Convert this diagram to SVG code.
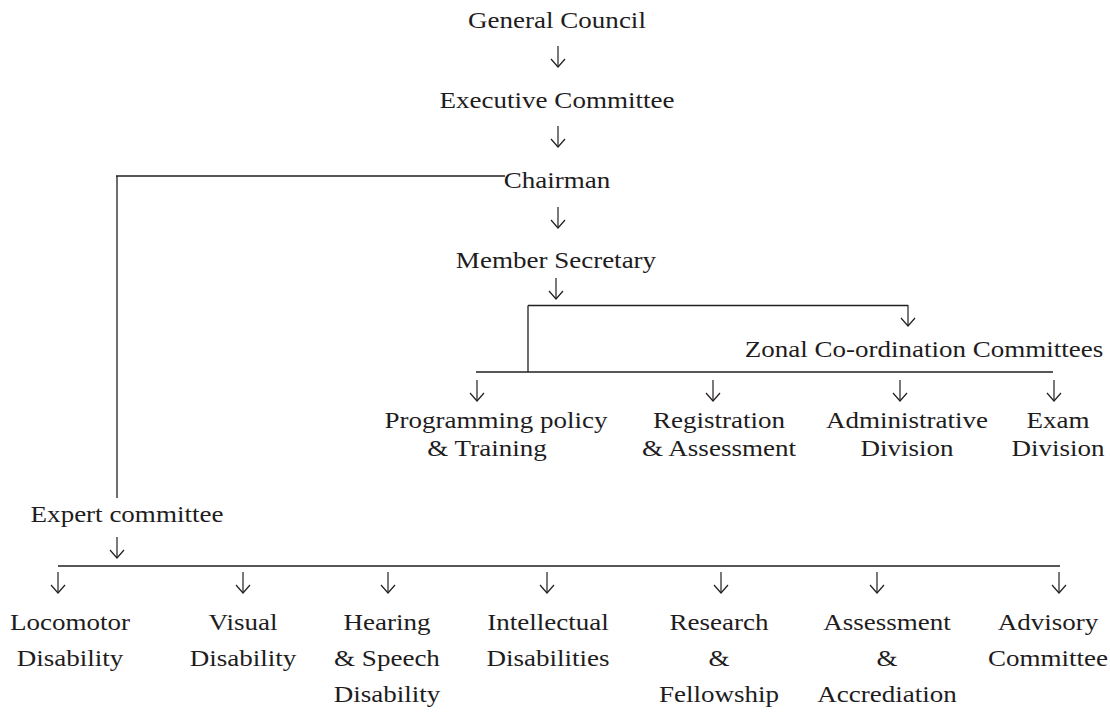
<svg xmlns="http://www.w3.org/2000/svg" width="1110" height="713" viewBox="0 0 1110 713">
  <style>
    text { font-family: "Liberation Serif", "Times New Roman", serif; font-size: 23.5px; fill: #1e1c1d; text-anchor: middle; }
    .ln { fill: none; stroke: #231f20; stroke-width: 1.3; }
    .arr { fill: none; stroke: #231f20; stroke-width: 1.2; marker-end: url(#ah); }
  </style>
  <defs>
    <marker id="ah" markerUnits="userSpaceOnUse" viewBox="-10 -8 11 16" refX="0" refY="0" markerWidth="11" markerHeight="16" orient="auto">
      <path d="M-8,-7 L0,0 L-8,7" fill="none" stroke="#231f20" stroke-width="1.2"/>
    </marker>
  </defs>
  <rect width="1110" height="713" fill="#ffffff"/>

  <g id="connectors">
    <path class="arr" d="M558,46 V67"/>
    <path class="arr" d="M558,126 V147"/>
    <path class="ln" d="M505,176 H116 M117,176 V498"/>
    <path class="arr" d="M558,207 V228"/>
    <path class="arr" d="M556,278 V299"/>
    <path class="ln" d="M528,305.5 H908 M528,305.5 V372 M476,372 H1053"/>
    <path class="arr" d="M908,305 V326"/>
    <path class="arr" d="M477,380 V401"/>
    <path class="arr" d="M713,380 V401"/>
    <path class="arr" d="M900,380 V401"/>
    <path class="arr" d="M1054,380 V401"/>
    <path class="arr" d="M117,537 V558"/>
    <path class="ln" d="M58,566 H1060"/>
    <path class="arr" d="M58,572 V593"/>
    <path class="arr" d="M243,572 V593"/>
    <path class="arr" d="M388,572 V593"/>
    <path class="arr" d="M547,572 V593"/>
    <path class="arr" d="M721,572 V593"/>
    <path class="arr" d="M877,572 V593"/>
    <path class="arr" d="M1059,572 V593"/>
  </g>

  <g id="general-council" transform="translate(557,28) scale(1.15,1)"><text x="0" y="0">General Council</text></g>
  <g id="executive-committee" transform="translate(557,108) scale(1.15,1)"><text x="0" y="0">Executive Committee</text></g>
  <g id="chairman" transform="translate(557,188) scale(1.15,1)"><text x="0" y="0">Chairman</text></g>
  <g id="member-secretary" transform="translate(556,268) scale(1.15,1)"><text x="0" y="0">Member Secretary</text></g>
  <g id="zonal" transform="translate(924,357) scale(1.15,1)"><text x="0" y="0">Zonal Co-ordination Committees</text></g>

  <g id="programming" transform="translate(0,428)">
    <g transform="translate(496,0) scale(1.15,1)"><text x="0" y="0">Programming policy</text></g>
    <g transform="translate(487,28) scale(1.15,1)"><text x="0" y="0">&amp; Training</text></g>
  </g>
  <g id="registration" transform="translate(719,428) scale(1.15,1)">
    <text x="0" y="0">Registration<tspan x="0" dy="28">&amp; Assessment</tspan></text>
  </g>
  <g id="administrative" transform="translate(907,428) scale(1.15,1)">
    <text x="0" y="0">Administrative<tspan x="0" dy="28">Division</tspan></text>
  </g>
  <g id="exam" transform="translate(1058,428) scale(1.15,1)">
    <text x="0" y="0">Exam<tspan x="0" dy="28">Division</tspan></text>
  </g>

  <g id="expert-committee" transform="translate(127,522) scale(1.15,1)"><text x="0" y="0">Expert committee</text></g>

  <g id="locomotor" transform="translate(70,630) scale(1.15,1)">
    <text x="0" y="0">Locomotor<tspan x="0" dy="36">Disability</tspan></text>
  </g>
  <g id="visual" transform="translate(243,630) scale(1.15,1)">
    <text x="0" y="0">Visual<tspan x="0" dy="36">Disability</tspan></text>
  </g>
  <g id="hearing" transform="translate(387,630) scale(1.15,1)">
    <text x="0" y="0">Hearing<tspan x="0" dy="36">&amp; Speech</tspan><tspan x="0" dy="36">Disability</tspan></text>
  </g>
  <g id="intellectual" transform="translate(548,630) scale(1.15,1)">
    <text x="0" y="0">Intellectual<tspan x="0" dy="36">Disabilities</tspan></text>
  </g>
  <g id="research" transform="translate(719,630) scale(1.15,1)">
    <text x="0" y="0">Research<tspan x="0" dy="36">&amp;</tspan><tspan x="0" dy="36">Fellowship</tspan></text>
  </g>
  <g id="assessment" transform="translate(887,630) scale(1.15,1)">
    <text x="0" y="0">Assessment<tspan x="0" dy="36">&amp;</tspan><tspan x="0" dy="36">Accrediation</tspan></text>
  </g>
  <g id="advisory" transform="translate(1048,630) scale(1.15,1)">
    <text x="0" y="0">Advisory<tspan x="0" dy="36">Committee</tspan></text>
  </g>
</svg>
